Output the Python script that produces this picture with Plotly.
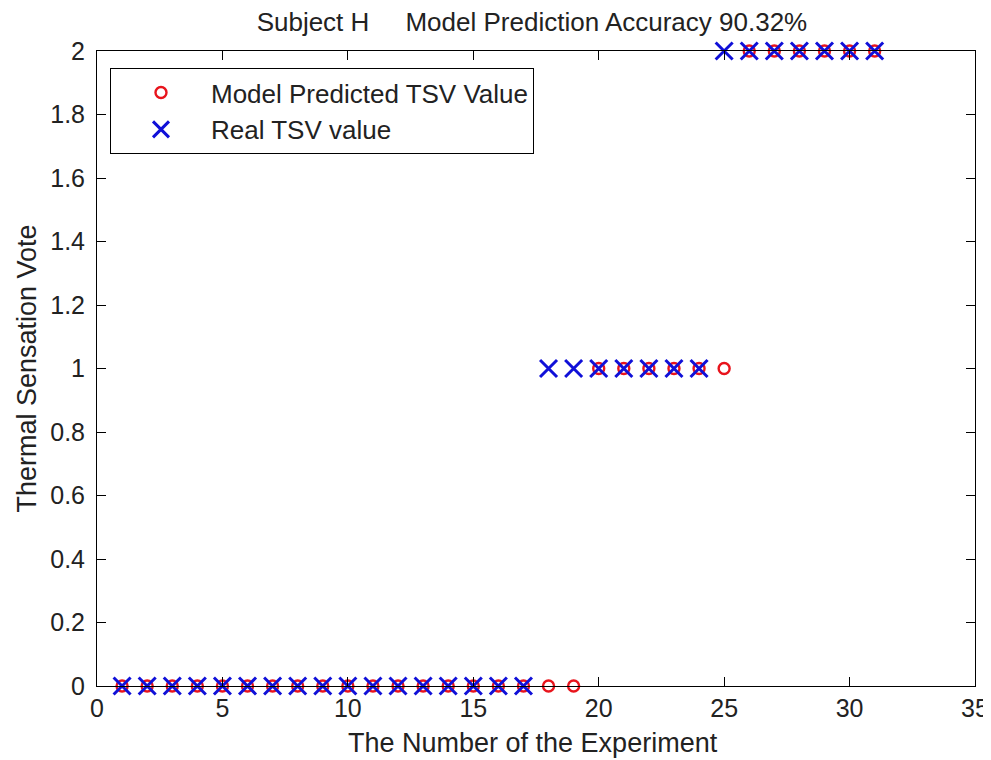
import plotly.graph_objects as go

experiments = list(range(1, 32))
predicted_tsv = [0]*19 + [1]*6 + [2]*6
real_tsv = [0]*17 + [1]*7 + [2]*7
x_ticks = [0, 5, 10, 15, 20, 25, 30, 35]
y_ticks = [0, 0.2, 0.4, 0.6, 0.8, 1, 1.2, 1.4, 1.6, 1.8, 2]

font = "Liberation Sans, Arial, sans-serif"
txt = "#222"

fig = go.Figure()
fig.add_trace(go.Scatter(
    x=experiments, y=predicted_tsv, mode="markers", name="Model Predicted TSV Value",
    marker=dict(symbol="circle-open", color="#e8141c", size=11, line=dict(width=2.4)),
    cliponaxis=False))
fig.add_trace(go.Scatter(
    x=experiments, y=real_tsv, mode="markers", name="Real TSV value",
    marker=dict(symbol="x-thin-open", color="#1010d8", size=17, line=dict(width=3, color="#1010d8")),
    cliponaxis=False))

axis_common = dict(showline=True, linecolor="black", linewidth=1, mirror="ticks",
                   ticks="inside", ticklen=9, tickcolor="black", showgrid=False,
                   zeroline=False, tickfont=dict(size=25, color=txt, family=font))
fig.update_xaxes(range=[0, 35], tickvals=x_ticks, automargin=False, **axis_common)
fig.update_yaxes(range=[0, 2], tickvals=y_ticks, ticktext=[str(v) for v in y_ticks], automargin=False,
                 ticklabelstandoff=6,
                 title=dict(text="Thermal Sensation Vote", font=dict(size=27, color=txt, family=font), standoff=5),
                 **axis_common)

fig.add_annotation(text="The Number of the Experiment", xref="paper", yref="paper",
                   x=0.497, y=-0.089, xanchor="center", yanchor="middle", showarrow=False,
                   font=dict(size=27, color=txt, family=font))

fig.update_layout(
    width=983, height=752,
    margin=dict(l=89, r=16, t=43, b=74),
    paper_bgcolor="white", plot_bgcolor="white",
    title=dict(text="Subject H     Model Prediction Accuracy 90.32%", x=0.533, xanchor="center",
               y=0.981, yanchor="middle", font=dict(size=26, color=txt, family=font)),
    legend=dict(x=0.0148, y=0.973, xanchor="left", yanchor="top", bordercolor="black", borderwidth=1,
                bgcolor="white", font=dict(size=26, color=txt, family=font),
                itemwidth=90, tracegroupgap=0),
    showlegend=True,
)
fig.write_html("out.html")
